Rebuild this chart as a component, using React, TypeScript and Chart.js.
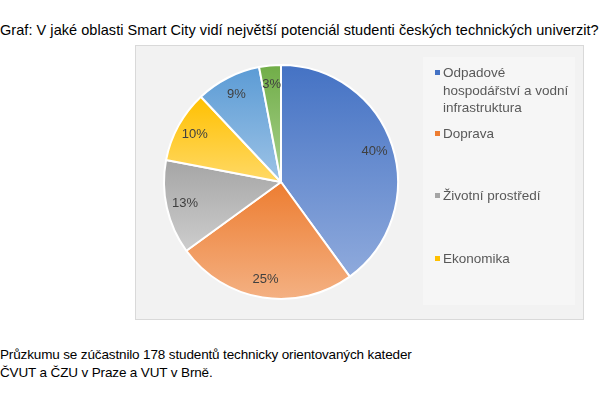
import { useEffect, useRef } from 'react';
import { Chart, registerables } from 'chart.js';

Chart.register(...registerables);

// categories (the last two are cut off from the legend in the original, so their names are unknown)
const categories = [
  ['Odpadové', 'hospodářství a vodní', 'infrastruktura'],
  ['Doprava'],
  ['Životní prostředí'],
  ['Ekonomika'],
  ['Oblast 5'],
  ['Oblast 6'],
];
const shares = [40, 25, 13, 10, 9, 3];
const baseColors = ['#4472c4', '#ed7d31', '#a5a5a5', '#ffc000', '#5b9bd5', '#70ad47'];
const lightColors = ['#8faadc', '#f4b183', '#cdcdcd', '#ffd966', '#9dc3e6', '#a9d18e'];
const legendShown = 4;

const title = 'Graf: V jaké oblasti Smart City vidí největší potenciál studenti českých technických univerzit?';
const note = [
  'Průzkumu se zúčastnilo 178 studentů technicky orientovaných kateder',
  'ČVUT a ČZU v Praze a VUT v Brně.',
];

// vertical extent of a pie slice, used for the per-slice gradient
function sliceExtent(cy: number, r: number, a0: number, a1: number) {
  let minY = cy;
  let maxY = cy;
  const check = (a: number) => {
    const y = cy + r * Math.sin(a);
    minY = Math.min(minY, y);
    maxY = Math.max(maxY, y);
  };
  check(a0);
  check(a1);
  for (let k = -2; k <= 2; k++) {
    const down = Math.PI / 2 + k * 2 * Math.PI;
    const up = -Math.PI / 2 + k * 2 * Math.PI;
    if (down > a0 && down < a1) check(down);
    if (up > a0 && up < a1) check(up);
  }
  return [minY, maxY];
}

const pctLabels = {
  id: 'pctLabels',
  afterDatasetsDraw(chart: any) {
    const ctx = chart.ctx;
    const meta = chart.getDatasetMeta(0);
    const total = shares.reduce((a, b) => a + b, 0);
    ctx.save();
    ctx.font = '13px "Liberation Sans", Arial, sans-serif';
    ctx.fillStyle = '#404040';
    ctx.textAlign = 'center';
    ctx.textBaseline = 'middle';
    meta.data.forEach((arc: any, i: number) => {
      const { x, y, startAngle, endAngle, outerRadius } = arc.getProps(
        ['x', 'y', 'startAngle', 'endAngle', 'outerRadius'],
        true
      );
      const mid = (startAngle + endAngle) / 2;
      const rr = outerRadius * 0.84;
      const txt = Math.round((shares[i] / total) * 100) + '%';
      ctx.fillText(txt, x + rr * Math.cos(mid), y + rr * Math.sin(mid));
    });
    ctx.restore();
  },
};

function PieChart() {
  const canvasRef = useRef<HTMLCanvasElement>(null);
  const chartRef = useRef<Chart | null>(null);

  useEffect(() => {
    if (!canvasRef.current) return;
    const total = shares.reduce((a, b) => a + b, 0);

    chartRef.current = new Chart(canvasRef.current, {
      type: 'pie',
      data: {
        labels: categories.map((c) => c.join(' ')),
        datasets: [
          {
            data: shares,
            borderColor: '#ffffff',
            borderWidth: 2,
            backgroundColor: (c: any) => {
              const i = c.dataIndex;
              const area = c.chart.chartArea;
              if (!area) return baseColors[i];
              const cy = (area.top + area.bottom) / 2;
              const r = Math.min(area.right - area.left, area.bottom - area.top) / 2;
              const before = shares.slice(0, i).reduce((a, b) => a + b, 0);
              const a0 = -Math.PI / 2 + (2 * Math.PI * before) / total;
              const a1 = a0 + (2 * Math.PI * shares[i]) / total;
              const [y0, y1] = sliceExtent(cy, r, a0, a1);
              const g = c.chart.ctx.createLinearGradient(0, y0, 0, y1);
              g.addColorStop(0, baseColors[i]);
              g.addColorStop(1, lightColors[i]);
              return g;
            },
          },
        ],
      },
      options: {
        responsive: true,
        maintainAspectRatio: false,
        animation: false,
        layout: { padding: { left: 27, top: 18, right: 184, bottom: 19 } },
        plugins: {
          legend: { display: false },
          tooltip: { enabled: false },
        },
      },
      plugins: [pctLabels],
    });

    return () => {
      chartRef.current?.destroy();
      chartRef.current = null;
    };
  }, []);

  return <canvas ref={canvasRef}></canvas>;
}

export default function App() {
  useEffect(() => {
    document.body.style.margin = '0';
  }, []);

  const textFont = '"Liberation Sans", Arial, sans-serif';
  const legendTops = [64, 125, 187, 250];

  return (
    <div style={{ position: 'relative', width: 600, height: 400, background: '#fff', overflow: 'hidden', fontFamily: textFont }}>
      <div
        style={{
          position: 'absolute',
          left: 0,
          top: 22,
          fontSize: 14.5,
          lineHeight: '16px',
          letterSpacing: 0.05,
          whiteSpace: 'nowrap',
          color: '#000',
        }}
      >
        {title}
      </div>

      <div
        style={{
          position: 'absolute',
          left: 135,
          top: 45,
          width: 449,
          height: 275,
          boxSizing: 'border-box',
          border: '1px solid #d9d9d9',
          background: '#f2f2f2',
        }}
      >
        <div style={{ position: 'absolute', left: 287, top: 11, width: 152, height: 248, background: '#f6f6f6' }} />
        <div style={{ position: 'absolute', inset: 0 }}>
          <PieChart />
        </div>
        {categories.slice(0, legendShown).map((lines, i) => (
          <div key={i} style={{ position: 'absolute', left: 307, top: legendTops[i] - 45 - 1, color: '#595959', fontSize: 13.5, lineHeight: '17.5px', whiteSpace: 'nowrap' }}>
            <span style={{ position: 'absolute', left: -8, top: 6, width: 5, height: 5, background: baseColors[i] }} />
            {lines.map((l, j) => (
              <div key={j}>{l}</div>
            ))}
          </div>
        ))}
      </div>

      <div style={{ position: 'absolute', left: 0, top: 346, fontSize: 13.5, lineHeight: '18px', letterSpacing: -0.14, color: '#000', whiteSpace: 'nowrap' }}>
        {note.map((l, i) => (
          <div key={i}>{l}</div>
        ))}
      </div>
    </div>
  );
}
